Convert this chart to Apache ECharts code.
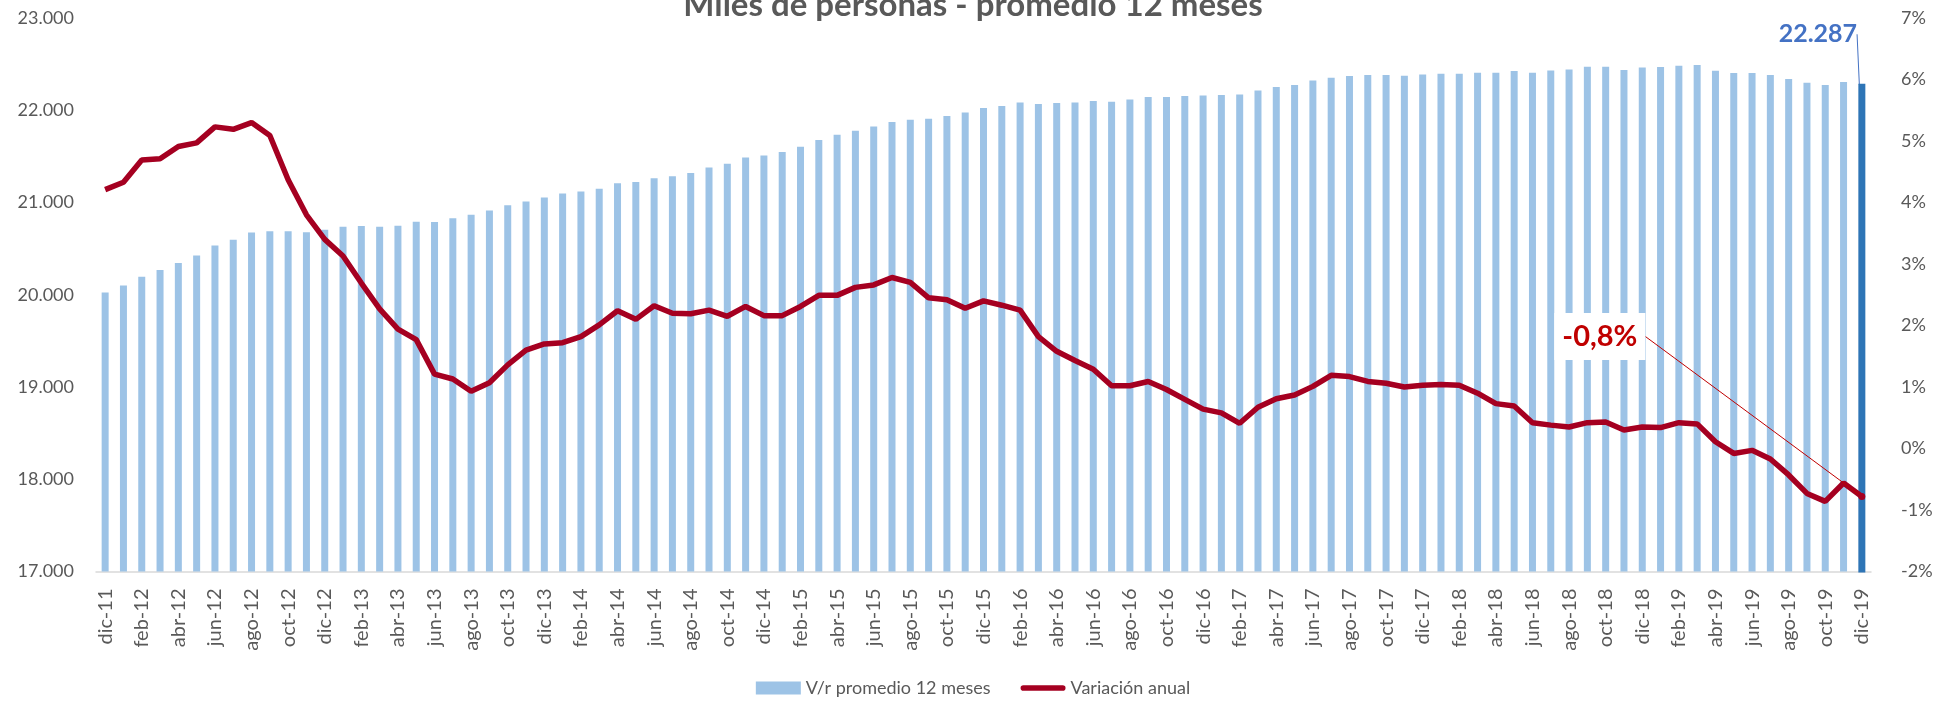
<!DOCTYPE html>
<html>
<head>
<meta charset="utf-8">
<script src="https://cdn.jsdelivr.net/npm/echarts@6/dist/echarts.min.js"></script>
<style>html,body{margin:0;padding:0;background:#fff}#c{width:1946px;height:702px}</style>
</head>
<body>
<div id="c"></div>
<script>
const titleText = 'Miles de personas - promedio 12 meses';
const monthNames = ['ene','feb','mar','abr','may','jun','jul','ago','sep','oct','nov','dic'];
const categories = ['dic-11'];
for (let y = 12; y <= 19; y++) for (let m = 0; m < 12; m++) categories.push(monthNames[m] + '-' + y);

const barName = 'V/r promedio 12 meses';
const lineName = 'Variación anual';

const barValues = [
 20025,20100,20195,20267,20343,20426,20535,20597,20675,20688,20688,20677,
 20705,20737,20745,20737,20748,20790,20788,20830,20867,20914,20970,21010,
 21054,21097,21119,21150,21210,21223,21264,21285,21321,21380,21420,21488,
 21510,21547,21604,21677,21734,21778,21824,21872,21897,21908,21937,21976,
 22024,22045,22085,22067,22078,22085,22100,22092,22117,22143,22143,22154,
 22161,22165,22172,22215,22252,22273,22322,22352,22371,22382,22382,22374,
 22388,22396,22396,22407,22407,22425,22407,22432,22443,22472,22472,22436,
 22464,22468,22483,22490,22428,22403,22403,22382,22338,22298,22273,22305,
 22287
];
const lineValues = [
 4.21,4.33,4.69,4.71,4.91,4.97,5.23,5.19,5.30,5.09,4.37,3.80,
 3.40,3.13,2.69,2.27,1.94,1.77,1.21,1.13,0.93,1.07,1.36,1.60,
 1.70,1.72,1.82,2.01,2.24,2.10,2.32,2.20,2.19,2.25,2.15,2.31,
 2.16,2.16,2.31,2.49,2.49,2.62,2.66,2.78,2.70,2.45,2.42,2.28,
 2.40,2.33,2.25,1.82,1.58,1.43,1.29,1.02,1.02,1.09,0.96,0.80,
 0.64,0.58,0.41,0.67,0.81,0.87,1.01,1.19,1.17,1.09,1.06,1.00,
 1.03,1.04,1.03,0.90,0.73,0.69,0.42,0.38,0.35,0.42,0.43,0.30,
 0.35,0.34,0.42,0.40,0.11,-0.08,-0.03,-0.17,-0.43,-0.73,-0.86,-0.56,
 -0.78
];
const leftTicks = {min: 17000, max: 23000, interval: 1000};
const rightTicks = {min: -2, max: 7, interval: 1};

const FONT = 'Lato';
const GRAY = '#595959';
const last = barValues.length - 1;

const barData = barValues.map((v, i) => i === last ? {
  value: v,
  itemStyle: {color: '#2E75B6', borderColor: '#2E75B6', borderWidth: 2},
  label: {show: true}
} : v);
const lineData = lineValues.map((v, i) => i === last ? {value: v, label: {show: true}} : v);

const chart = echarts.init(document.getElementById('c'), null, {renderer: 'canvas'});
chart.setOption({
  animation: false,
  backgroundColor: '#fff',
  textStyle: {fontFamily: FONT},
  title: {
    text: titleText, left: 'center', top: -16,
    textStyle: {fontFamily: FONT, fontSize: 33, fontWeight: 'bold', color: GRAY}
  },
  grid: {left: 96, right: 75, top: 18, bottom: 130.5, containLabel: false},
  legend: {
    bottom: 0, left: 'center', itemWidth: 45, itemHeight: 13, itemGap: 30,
    textStyle: {fontFamily: FONT, fontSize: 18, color: GRAY},
    data: [
      {name: barName, icon: 'rect'},
      {name: lineName, icon: 'path://M3,0 L45,0 A3,3 0 0 1 45,6 L3,6 A3,3 0 0 1 3,0 Z'}
    ]
  },
  xAxis: {
    type: 'category', data: categories, boundaryGap: true,
    axisLine: {show: true, onZero: false, lineStyle: {color: '#D9D9D9', width: 1.5}},
    axisTick: {show: false},
    axisLabel: {interval: 1, rotate: 90, margin: 17, fontFamily: FONT, fontSize: 20, color: GRAY}
  },
  yAxis: [
    {
      type: 'value', position: 'left', min: leftTicks.min, max: leftTicks.max, interval: leftTicks.interval,
      splitLine: {show: false}, axisLine: {show: false}, axisTick: {show: false},
      axisLabel: {margin: 22, fontFamily: FONT, fontSize: 18, color: GRAY,
        formatter: v => v.toLocaleString('de-DE')}
    },
    {
      type: 'value', position: 'right', min: rightTicks.min, max: rightTicks.max, interval: rightTicks.interval,
      splitLine: {show: false}, axisLine: {show: false}, axisTick: {show: false},
      axisLabel: {margin: 30, fontFamily: FONT, fontSize: 18, color: GRAY, formatter: v => v + '%'}
    }
  ],
  series: [
    {
      name: barName, type: 'bar', data: barData, barWidth: 7,
      itemStyle: {color: '#9DC3E6'},
      label: {
        show: false, position: 'top', fontFamily: FONT, fontSize: 25, fontWeight: 'bold', color: '#4472C4',
        formatter: p => p.value.toLocaleString('de-DE')
      },
      labelLayout: {dx: -44, dy: -32},
      labelLine: {show: true, lineStyle: {color: '#4472C4', width: 1}}
    },
    {
      name: lineName, type: 'line', yAxisIndex: 1, data: lineData,
      symbol: 'circle', showSymbol: true,
      symbolSize: (val, p) => p.dataIndex === last ? 7 : 0,
      itemStyle: {color: '#A50021'},
      lineStyle: {color: '#A50021', width: 5.5},
      label: {
        show: false, position: 'inside', fontFamily: FONT, fontSize: 29, fontWeight: 'bold', color: '#C00000',
        backgroundColor: '#fff', padding: [9, 8, 9, 8],
        formatter: p => p.value.toFixed(1).replace('.', ',') + '%'
      },
      labelLayout: {dx: -262, dy: -160},
      labelLine: {show: true, lineStyle: {color: '#C00000', width: 1}},
      z: 3
    }
  ]
});
</script>
</body>
</html>
